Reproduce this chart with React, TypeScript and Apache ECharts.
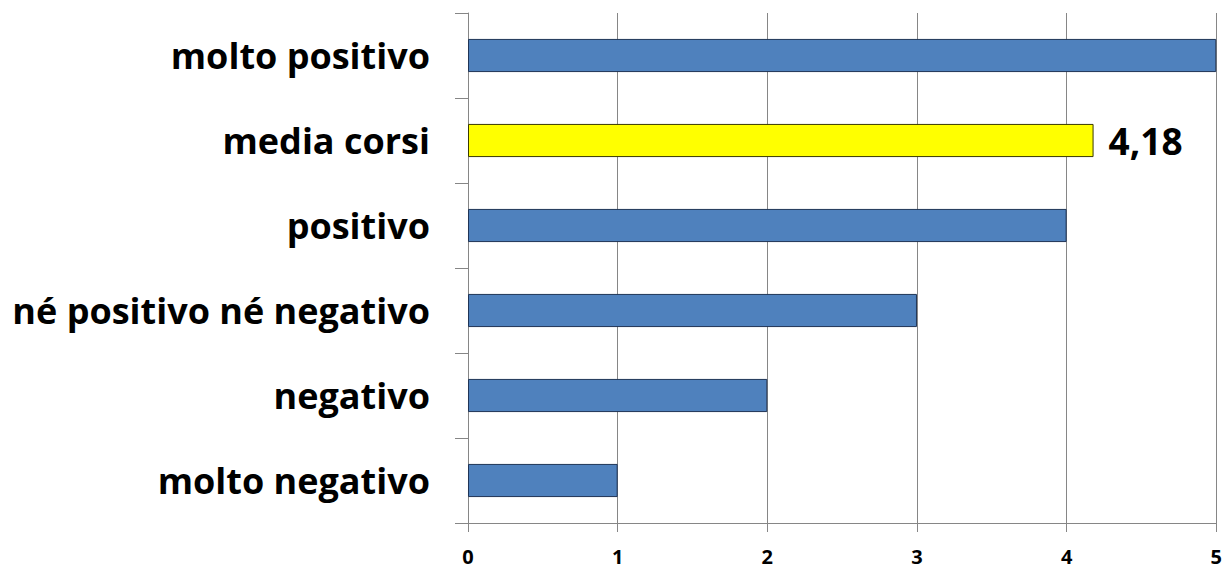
import React, { useEffect, useRef } from "react";
import * as echarts from "echarts";

const categories = [
  "molto positivo",
  "media corsi",
  "positivo",
  "né positivo né negativo",
  "negativo",
  "molto negativo",
];
const values = [5, 4.18, 4, 3, 2, 1];
const highlightIndex = 1;
const xTicks = [0, 1, 2, 3, 4, 5];

export default function App() {
  const ref = useRef<HTMLDivElement>(null);
  useEffect(() => {
    if (!ref.current) return;
    const chart = echarts.init(ref.current, null, { renderer: "svg" });
    const font = "'Open Sans', Calibri, sans-serif";
    chart.setOption({
      animation: false,
      backgroundColor: "#ffffff",
      grid: { left: 468, right: 8, top: 13, bottom: 47, containLabel: false },
      xAxis: {
        type: "value",
        min: xTicks[0],
        max: xTicks[xTicks.length - 1],
        interval: 1,
        axisLine: { show: true, lineStyle: { color: "#868686", width: 1 } },
        axisTick: { show: true, length: 9, lineStyle: { color: "#868686" } },
        splitLine: { show: true, lineStyle: { color: "#868686", width: 1 } },
        axisLabel: {
          margin: 23,
          color: "#000",
          fontFamily: font,
          fontWeight: "bold",
          fontSize: 20,
          lineHeight: 20,
          formatter: (v: number) => String(v),
        },
      },
      yAxis: {
        type: "category",
        data: categories,
        inverse: true,
        axisLine: { show: true, lineStyle: { color: "#868686", width: 1 } },
        axisTick: { show: true, length: 13, lineStyle: { color: "#868686" } },
        axisLabel: {
          margin: 38,
          color: "#000",
          fontFamily: font,
          fontWeight: "bold",
          fontSize: 36,
        },
      },
      series: [
        {
          type: "bar",
          barCategoryGap: "61%",
          data: values.map((v, i) => ({
            value: v,
            itemStyle:
              i === highlightIndex
                ? { color: "#FFFF00", borderColor: "#3a3a00", borderWidth: 1 }
                : { color: "#4F81BD", borderColor: "#1F3456", borderWidth: 1 },
            label:
              i === highlightIndex
                ? {
                    show: true,
                    position: "right",
                    distance: 15,
                    formatter: (p: any) => String(p.value).replace(".", ","),
                    color: "#000",
                    fontFamily: font,
                    fontWeight: "bold",
                    fontSize: 37,
                  }
                : { show: false },
          })),
        },
      ],
    });
    return () => chart.dispose();
  }, []);
  return (
    <div
      ref={ref}
      style={{ position: "absolute", left: 0, top: 0, width: 1225, height: 570 }}
    />
  );
}
